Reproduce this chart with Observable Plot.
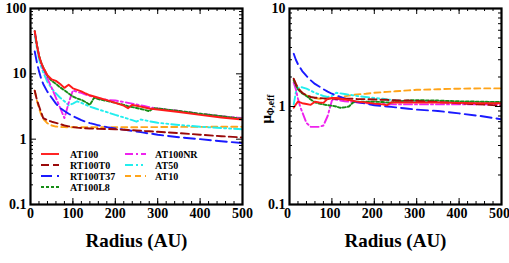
<!DOCTYPE html>
<html><head><meta charset="utf-8">
<script src="https://cdn.jsdelivr.net/npm/d3@7"></script>
<script src="https://cdn.jsdelivr.net/npm/@observablehq/plot@0.6"></script>
<style>
body{margin:0;background:#fff;}
#wrap{display:flex;position:relative;width:509px;height:263px;overflow:hidden;}
#legend{position:absolute;left:0;top:0;}
#wrap svg, #wrap svg text{font-family:"Liberation Serif","Times New Roman",Times,"DejaVu Serif",serif !important;font-weight:bold;}
</style></head><body><div id="wrap"></div>
<script>
const radius = [10,15,20,25,30,40,50,60,70,80,90,100,110,120,130,140,150,160,180,200,220,230,240,250,260,270,280,290,300,350,400,450,500];

const seriesNames  = ["AT100","RT100T0","RT100T37","AT100L8","AT100NR","AT50","AT10"];
const seriesColors = ["#ff1a1a","#9a0a0a","#1a1aff","#168c16","#ee22ee","#22eeee","#ffa41a"];
const seriesDash   = [null,"8,4","11,5","3,2","8,3,2,3","8,3,2,3,2,3","6,4"];

// left panel values (on radius grid)
const leftAT100    = [45,28,19,15,12.5,9.5,8.2,7.8,7.0,6.1,6.8,6.0,5.7,5.4,5.0,4.7,4.5,4.3,3.95,3.6,3.25,2.98,3.35,3.25,3.15,3.05,2.95,2.9,2.85,2.6,2.35,2.15,2.0];
const leftRT100T0  = [5.5,4.0,3.2,2.6,2.1,1.95,1.85,1.78,1.7,1.62,1.57,1.53,1.5,1.48,1.47,1.46,1.45,1.44,1.43,1.42,1.39,1.38,1.37,1.36,1.35,1.33,1.32,1.31,1.3,1.24,1.17,1.11,1.06];
const leftRT100T37 = [22,15,11,8.5,7.0,5.3,4.3,3.5,3.0,2.7,2.45,2.25,2.1,1.95,1.85,1.76,1.7,1.63,1.53,1.46,1.4,1.37,1.34,1.31,1.28,1.25,1.22,1.2,1.17,1.07,1.0,0.93,0.87];
const leftAT100L8  = [45,28,19,15,12.5,9.3,7.8,7.0,6.2,5.6,5.0,4.5,4.2,4.0,3.7,3.35,4.3,4.1,3.85,3.6,3.35,3.2,3.1,3.0,2.9,2.8,2.68,3.0,2.95,2.7,2.45,2.25,2.05];
const leftAT100NR  = [45,28,19,14.5,11.8,8.5,6.1,4.3,3.0,2.1,3.6,5.6,5.3,5.1,4.8,4.6,4.4,4.2,4.0,3.9,3.7,3.6,3.5,3.4,3.3,3.2,3.1,3.0,2.95,2.7,2.45,2.25,2.1];
const leftAT50     = [40,25,17,13,10.5,7.5,6.0,5.0,4.3,3.8,3.3,3.5,3.8,3.6,3.35,3.15,3.0,2.85,2.6,2.35,2.15,2.05,1.95,1.85,2.0,1.95,1.88,1.83,1.78,1.65,1.55,1.48,1.42];
const leftAT10     = [5.5,3.9,3.0,2.4,2.05,1.75,1.62,1.56,1.54,1.53,1.52,1.52,1.52,1.52,1.52,1.52,1.52,1.52,1.52,1.52,1.52,1.52,1.52,1.52,1.53,1.53,1.53,1.53,1.53,1.54,1.54,1.55,1.55];

// right panel values (on radius grid)
const rightAT100    = [0.97,1.05,1.12,1.1,1.08,1.06,1.04,1.12,1.1,1.09,1.2,1.22,1.22,1.2,1.18,1.16,1.14,1.12,1.1,1.07,1.05,1.03,1.1,1.1,1.1,1.1,1.1,1.1,1.1,1.1,1.09,1.08,1.08];
const rightRT100T0  = [1.92,1.7,1.55,1.45,1.38,1.3,1.25,1.23,1.22,1.21,1.2,1.2,1.2,1.2,1.2,1.2,1.2,1.19,1.19,1.18,1.17,1.17,1.16,1.16,1.15,1.15,1.15,1.14,1.14,1.11,1.08,1.05,1.02];
const rightRT100T37 = [3.45,3.0,2.7,2.5,2.3,2.05,1.85,1.7,1.6,1.5,1.42,1.35,1.3,1.25,1.21,1.17,1.14,1.11,1.07,1.03,1.01,1.0,0.99,0.98,0.97,0.96,0.95,0.94,0.93,0.9,0.85,0.8,0.74];
const rightAT100L8  = [1.85,1.65,1.5,1.42,1.36,1.28,1.18,1.1,1.07,1.05,1.03,1.02,1.0,0.97,0.98,1.0,1.1,1.12,1.12,1.12,1.11,1.1,1.1,1.12,1.13,1.14,1.15,1.16,1.16,1.15,1.13,1.12,1.11];
const rightAT100NR  = [1.75,1.5,1.2,1.0,0.88,0.68,0.62,0.62,0.62,0.64,0.8,1.15,1.18,1.15,1.13,1.12,1.11,1.1,1.08,1.06,1.06,1.05,1.05,1.05,1.05,1.05,1.05,1.05,1.05,1.05,1.05,1.05,1.05];
const rightAT50     = [1.05,1.4,1.55,1.58,1.57,1.52,1.45,1.38,1.33,1.28,1.25,1.28,1.38,1.36,1.34,1.32,1.3,1.28,1.25,1.22,1.2,1.18,1.17,1.16,1.15,1.14,1.13,1.13,1.12,1.11,1.1,1.1,1.1];
const rightAT10     = [1.9,1.7,1.55,1.45,1.38,1.3,1.25,1.22,1.2,1.2,1.2,1.2,1.22,1.25,1.27,1.29,1.31,1.33,1.35,1.38,1.4,1.41,1.42,1.43,1.44,1.45,1.46,1.47,1.48,1.5,1.52,1.53,1.53];

const xMajor = [0,100,200,300,400,500];
const xMinor = d3.range(0, 501, 20);
const leftYMajor = [0.1,1,10,100];
const rightYMajor = [0.1,1,10];
const xTitle = "Radius (AU)";
const rightYLabelMain = "μ";
const rightYLabelSub = "Φ,eff";

const leftSeries  = [leftAT100,leftRT100T0,leftRT100T37,leftAT100L8,leftAT100NR,leftAT50,leftAT10];
const rightSeries = [rightAT100,rightRT100T0,rightRT100T37,rightAT100L8,rightAT100NR,rightAT50,rightAT10];

const FONT = "'Liberation Serif','Times New Roman',Times,serif";

function minorsLog(majors){
  const out=[];
  for(let i=0;i<majors.length-1;i++) for(let k=2;k<=9;k++) out.push(majors[i]*k);
  return out;
}

function makePanel(values, yMajor, opts){
  const W = opts.width, H = 263;
  const mL = opts.marginLeft, mR = opts.marginRight, mT = 8, mB = 59;
  const pw = W - mL - mR, ph = H - mT - mB;
  const yMinor = minorsLog(yMajor);
  const marks = [];
  for (let s = seriesNames.length - 1; s >= 0; s--) {
    const rows = radius.map((r,i)=>({r, v: values[s][i]}));
    marks.push(Plot.line(rows, {x:"r", y:"v", stroke: seriesColors[s], strokeWidth: 1.9,
      strokeDasharray: seriesDash[s] || undefined, clip: true}));
  }
  marks.push(Plot.tickX(xMajor, {x:d=>d, insetTop: ph-6, stroke:"black"}));
  marks.push(Plot.tickX(xMajor, {x:d=>d, insetBottom: ph-6, stroke:"black"}));
  marks.push(Plot.tickX(xMinor, {x:d=>d, insetTop: ph-3, stroke:"black"}));
  marks.push(Plot.tickX(xMinor, {x:d=>d, insetBottom: ph-3, stroke:"black"}));
  marks.push(Plot.tickY(yMajor, {y:d=>d, insetRight: pw-6, stroke:"black"}));
  marks.push(Plot.tickY(yMajor, {y:d=>d, insetLeft: pw-6, stroke:"black"}));
  marks.push(Plot.tickY(yMinor, {y:d=>d, insetRight: pw-3, stroke:"black"}));
  marks.push(Plot.tickY(yMinor, {y:d=>d, insetLeft: pw-3, stroke:"black"}));
  marks.push(Plot.frame({stroke:"black", strokeWidth: 2.2}));
  marks.push(Plot.axisX(xMajor, {tickSize:0, tickPadding:4, label:null, fontSize:14, fontWeight:"bold", dx: opts.xdx || 0}));
  marks.push(Plot.axisY(yMajor, {tickSize:0, tickPadding:4, label:null, fontSize:14, fontWeight:"bold", tickFormat: d=>String(d)}));
  marks.push(Plot.text([xTitle], {text:d=>d, frameAnchor:"bottom", dy: 36, fontSize: 19, fontWeight:"bold", lineAnchor:"middle"}));
  if (opts.ylabel) {
    marks.push(Plot.text([rightYLabelMain], {text:d=>d, frameAnchor:"left", rotate:-90, dx:-23, dy: 17, textAnchor:"start", lineAnchor:"middle", fontSize: 15, fontWeight:"bold"}));
    marks.push(Plot.text([rightYLabelSub], {text:d=>d, frameAnchor:"left", rotate:-90, dx:-19, dy: 9, textAnchor:"start", lineAnchor:"middle", fontSize: 9.5, fontWeight:"bold"}));
  }
  return Plot.plot({
    width: W, height: H,
    marginLeft: mL, marginRight: mR, marginTop: mT, marginBottom: mB,
    style: {fontFamily: FONT, fontWeight: "bold", color: "black", background: "white", overflow: "visible"},
    x: {domain: [0, 500]},
    y: {type: "log", domain: [yMajor[0], yMajor[yMajor.length-1]]},
    marks
  });
}

const wrap = document.getElementById("wrap");
wrap.appendChild(makePanel(leftSeries, leftYMajor, {width: 255, marginLeft: 30, marginRight: 13}));
wrap.appendChild(makePanel(rightSeries, rightYMajor, {width: 254, marginLeft: 34, marginRight: 8, ylabel: true, xdx: -2}));

const leg = d3.select(wrap).append("svg").attr("id","legend").attr("width",255).attr("height",263)
  .style("font-size","10px");
const colX = [[41,59,70],[125,146,155]];
seriesNames.forEach((name, i) => {
  const col = i < 4 ? 0 : 1;
  const row = i < 4 ? i : i - 4;
  const y = 154 + row * 11;
  const [x1, x2, tx] = colX[col];
  leg.append("line").attr("x1",x1).attr("x2",x2).attr("y1",y).attr("y2",y)
    .attr("stroke",seriesColors[i]).attr("stroke-width",1.9)
    .attr("stroke-dasharray", seriesDash[i] || null);
  leg.append("text").attr("x",tx).attr("y",y).attr("dy","0.35em").attr("fill","black").text(name);
});
</script></body></html>
